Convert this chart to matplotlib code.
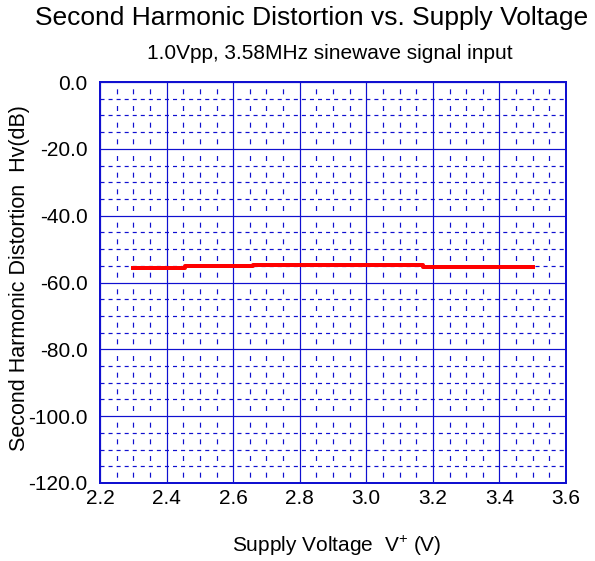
import matplotlib
matplotlib.use('Agg')
import matplotlib.pyplot as plt
from matplotlib.ticker import MultipleLocator

plt.rcParams['font.family'] = ['Liberation Sans', 'DejaVu Sans']
plt.rcParams['mathtext.fontset'] = 'custom'
plt.rcParams['mathtext.rm'] = 'Liberation Sans'
plt.rcParams['mathtext.it'] = 'Liberation Sans'
plt.rcParams['lines.scale_dashes'] = False

# supply voltage (V) and 2nd harmonic distortion (dB), stepwise trace
supply_v = [2.30, 2.455, 2.455, 2.66, 2.66, 3.17, 3.17, 3.50]
hv_db = [-55.6, -55.6, -55.2, -55.2, -54.9, -54.9, -55.3, -55.3]

xticks = [2.2, 2.4, 2.6, 2.8, 3.0, 3.2, 3.4, 3.6]
yticks = [0, -20, -40, -60, -80, -100, -120]

blue = '#1010d0'
px = 0.72  # one pixel in points at 100 dpi

fig = plt.figure(figsize=(5.95, 5.61), dpi=100)
ax = fig.add_axes([100/595, 1-483/561, 466/595, 401/561])

ax.plot(supply_v, hv_db, '-', color='red', lw=4*px, zorder=5)

ax.set_xlim(2.2, 3.6)
ax.set_ylim(-120, 0)
ax.set_xticks(xticks)
ax.set_xticklabels(['%.1f' % v for v in xticks])
ax.set_yticks(yticks)
ax.set_yticklabels(['%.1f' % v for v in yticks])
ax.xaxis.set_minor_locator(MultipleLocator(0.05))
ax.yaxis.set_minor_locator(MultipleLocator(5))

ax.grid(which='major', color=blue, lw=1.2*px, ls='-')
ax.xaxis.grid(which='minor', color=blue, lw=1.2*px, ls=(7.8, (3.6, 8.4)))
ax.yaxis.grid(which='minor', color=blue, lw=1.2*px, ls=(0, (2.9, 2.9)))
ax.tick_params(which='both', length=0, labelsize=15)
ax.tick_params(axis='x', pad=4)
ax.tick_params(axis='y', pad=9)
for s in ax.spines.values():
    s.set_color(blue)
    s.set_linewidth(2*px)

ax.set_xlabel(r'Supply Voltage  V$^{+}$ (V)', fontsize=15)
ax.xaxis.label.set_va('baseline')
ax.xaxis.set_label_coords(0.509, (483-552)/401)
ax.set_ylabel('Second Harmonic Distortion  Hv(dB)', fontsize=15.5)
ax.yaxis.label.set_va('center')
ax.yaxis.set_label_coords((19-100)/466, 0.51)

fig.text(312/595, 1-25/561, 'Second Harmonic Distortion vs. Supply Voltage',
         ha='center', va='baseline', fontsize=19)
fig.text(330/595, 1-59/561, '1.0Vpp, 3.58MHz sinewave signal input',
         ha='center', va='baseline', fontsize=15)

fig.savefig('out.png', dpi=100)
